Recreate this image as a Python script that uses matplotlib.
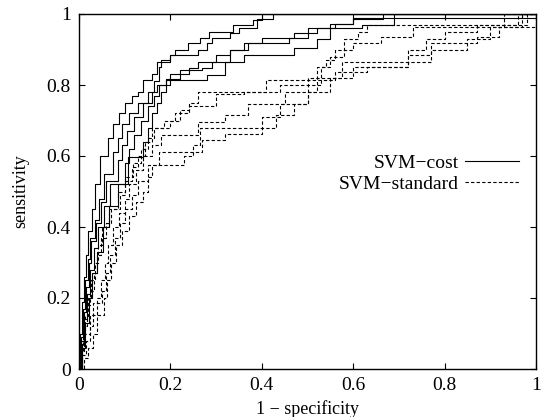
import matplotlib
matplotlib.use("Agg")
import matplotlib.pyplot as plt

plt.rcParams['font.family'] = ['Liberation Serif', 'DejaVu Serif']

# ROC step curves: (1 - specificity, sensitivity) plateau start points
cost_fpr = [
    [0, 0.003, 0.007, 0.011, 0.015, 0.020, 0.028, 0.036, 0.046, 0.064, 0.075, 0.088, 0.100, 0.115, 0.130,
     0.141, 0.159, 0.170, 0.199, 0.210, 0.239, 0.265, 0.285, 0.337, 0.380, 0.400, 1.0],
    [0, 0.004, 0.009, 0.014, 0.019, 0.025, 0.034, 0.044, 0.055, 0.075, 0.085, 0.095, 0.110, 0.130, 0.150,
     0.165, 0.175, 0.180, 0.200, 0.260, 0.280, 0.290, 0.330, 0.350, 0.390, 0.425, 1.0],
    [0, 0.005, 0.010, 0.016, 0.022, 0.027, 0.037, 0.048, 0.060, 0.085, 0.095, 0.105, 0.120, 0.140, 0.160,
     0.170, 0.190, 0.200, 0.240, 0.260, 0.300, 0.330, 0.370, 0.400, 0.470, 0.520, 0.550, 0.600, 1.0],
    [0, 0.006, 0.012, 0.018, 0.025, 0.032, 0.042, 0.054, 0.068, 0.100, 0.110, 0.120, 0.135, 0.150, 0.165,
     0.175, 0.190, 0.220, 0.270, 0.290, 0.330, 0.360, 0.460, 0.500, 0.560, 0.600, 0.665, 1.0],
    [0, 0.007, 0.014, 0.021, 0.029, 0.040, 0.052, 0.066, 0.085, 0.108, 0.141, 0.150, 0.160, 0.170, 0.180,
     0.190, 0.200, 0.280, 0.320, 0.360, 0.470, 0.520, 0.550, 0.620, 0.690, 1.0],
]
cost_tpr = [
    [0, 0.10, 0.19, 0.26, 0.32, 0.39, 0.45, 0.52, 0.60, 0.65, 0.69, 0.72, 0.75, 0.77, 0.781,
     0.814, 0.83, 0.866, 0.885, 0.90, 0.917, 0.931, 0.95, 0.969, 0.983, 1.0, 1.0],
    [0, 0.09, 0.17, 0.25, 0.31, 0.37, 0.42, 0.48, 0.55, 0.61, 0.65, 0.69, 0.72, 0.75, 0.78,
     0.81, 0.85, 0.87, 0.885, 0.90, 0.917, 0.931, 0.946, 0.96, 0.985, 1.0, 1.0],
    [0, 0.08, 0.16, 0.23, 0.30, 0.36, 0.41, 0.47, 0.53, 0.59, 0.63, 0.67, 0.71, 0.75, 0.78,
     0.80, 0.814, 0.83, 0.847, 0.866, 0.885, 0.90, 0.917, 0.931, 0.946, 0.96, 0.973, 0.988, 1.0],
    [0, 0.07, 0.14, 0.21, 0.28, 0.34, 0.40, 0.46, 0.52, 0.58, 0.62, 0.66, 0.70, 0.74, 0.77,
     0.80, 0.818, 0.842, 0.847, 0.866, 0.90, 0.917, 0.932, 0.96, 0.973, 0.985, 1.0, 1.0],
    [0, 0.06, 0.13, 0.20, 0.27, 0.33, 0.40, 0.46, 0.52, 0.598, 0.64, 0.68, 0.72, 0.75, 0.78,
     0.80, 0.814, 0.828, 0.866, 0.885, 0.903, 0.93, 0.96, 0.969, 1.0, 1.0],
]

std_fpr = [
    [0, 0.003, 0.008, 0.013, 0.020, 0.027, 0.035, 0.042, 0.050, 0.065, 0.085, 0.100, 0.118, 0.135, 0.150,
     0.165, 0.200, 0.220, 0.240, 0.260, 0.410, 0.520, 0.540, 0.560, 0.580, 0.610, 0.630, 0.980, 1.0],
    [0, 0.004, 0.010, 0.017, 0.024, 0.032, 0.040, 0.048, 0.058, 0.070, 0.090, 0.100, 0.115, 0.130, 0.145,
     0.160, 0.185, 0.210, 0.240, 0.300, 0.360, 0.440, 0.530, 0.550, 0.580, 0.600, 0.660, 0.730, 0.930, 1.0],
    [0, 0.005, 0.012, 0.024, 0.040, 0.048, 0.056, 0.064, 0.075, 0.088, 0.100, 0.110, 0.125, 0.140, 0.160,
     0.180, 0.260, 0.320, 0.370, 0.450, 0.500, 0.575, 0.720, 0.760, 0.800, 0.870, 0.960, 1.0],
    [0, 0.006, 0.015, 0.025, 0.030, 0.050, 0.060, 0.068, 0.078, 0.090, 0.100, 0.115, 0.130, 0.150, 0.230,
     0.250, 0.265, 0.400, 0.440, 0.500, 0.550, 0.600, 0.720, 0.770, 0.850, 0.900, 0.970, 1.0],
    [0, 0.010, 0.020, 0.030, 0.040, 0.055, 0.062, 0.070, 0.080, 0.095, 0.110, 0.125, 0.140, 0.150, 0.160,
     0.175, 0.270, 0.320, 0.400, 0.430, 0.470, 0.500, 0.520, 0.560, 0.630, 0.720, 0.770, 0.870, 0.920, 1.0],
]
std_tpr = [
    [0, 0.05, 0.10, 0.15, 0.20, 0.25, 0.30, 0.35, 0.40, 0.45, 0.50, 0.54, 0.58, 0.62, 0.65,
     0.68, 0.70, 0.73, 0.75, 0.78, 0.814, 0.85, 0.87, 0.90, 0.93, 0.95, 0.969, 1.0, 1.0],
    [0, 0.06, 0.12, 0.18, 0.22, 0.27, 0.32, 0.37, 0.41, 0.45, 0.49, 0.53, 0.57, 0.60, 0.64,
     0.68, 0.70, 0.72, 0.74, 0.776, 0.78, 0.80, 0.85, 0.88, 0.90, 0.917, 0.936, 0.964, 1.0, 1.0],
    [0, 0.05, 0.10, 0.152, 0.20, 0.25, 0.30, 0.35, 0.40, 0.44, 0.48, 0.52, 0.56, 0.60, 0.63,
     0.66, 0.697, 0.716, 0.746, 0.78, 0.82, 0.866, 0.90, 0.93, 0.95, 0.969, 1.0, 1.0],
    [0, 0.04, 0.08, 0.12, 0.186, 0.22, 0.27, 0.32, 0.37, 0.41, 0.45, 0.49, 0.53, 0.575, 0.60,
     0.63, 0.68, 0.71, 0.746, 0.78, 0.82, 0.852, 0.866, 0.90, 0.93, 0.964, 1.0, 1.0],
    [0, 0.03, 0.06, 0.10, 0.152, 0.20, 0.25, 0.30, 0.35, 0.39, 0.43, 0.47, 0.50, 0.54, 0.575,
     0.611, 0.645, 0.662, 0.68, 0.716, 0.746, 0.78, 0.814, 0.836, 0.852, 0.885, 0.917, 0.936, 0.964, 1.0],
]

tick_vals = [0, 0.2, 0.4, 0.6, 0.8, 1]
tick_labels = ["0", "0.2", "0.4", "0.6", "0.8", "1"]

fig = plt.figure(figsize=(5.41, 4.17), dpi=100)
ax = fig.add_axes([79 / 541, 1 - 369 / 417, 457 / 541, 355 / 417])

for i, (fx, ty) in enumerate(zip(cost_fpr, cost_tpr)):
    ax.plot(fx, ty, drawstyle='steps-post', color='black', lw=0.8,
            label="SVM\u2212cost" if i == 0 else None)
for i, (fx, ty) in enumerate(zip(std_fpr, std_tpr)):
    ax.plot(fx, ty, drawstyle='steps-post', color='black', lw=0.8, linestyle=(0, (3, 2)),
            label="SVM\u2212standard" if i == 0 else None)

ax.set_xlim(0, 1)
ax.set_ylim(0, 1)
ax.set_xticks(tick_vals)
ax.set_xticklabels(tick_labels)
ax.set_yticks(tick_vals)
ax.set_yticklabels(tick_labels)
ax.tick_params(direction='in', length=4, width=0.8, top=True, right=True, labelsize=14)
ax.tick_params(axis='x', pad=6)
ax.tick_params(axis='y', pad=6)
for s in ax.spines.values():
    s.set_linewidth(1.0)

ax.set_xlabel("1 \u2212 specificity", fontsize=13, labelpad=4)
ax.set_ylabel("sensitivity", fontsize=13, labelpad=12)

ax.legend(loc='center right', bbox_to_anchor=(0.985, 0.55), frameon=False, markerfirst=False,
          fontsize=14, handlelength=2.8, handletextpad=0.3, labelspacing=0.15, borderpad=0)

fig.savefig("out.png", dpi=100)
